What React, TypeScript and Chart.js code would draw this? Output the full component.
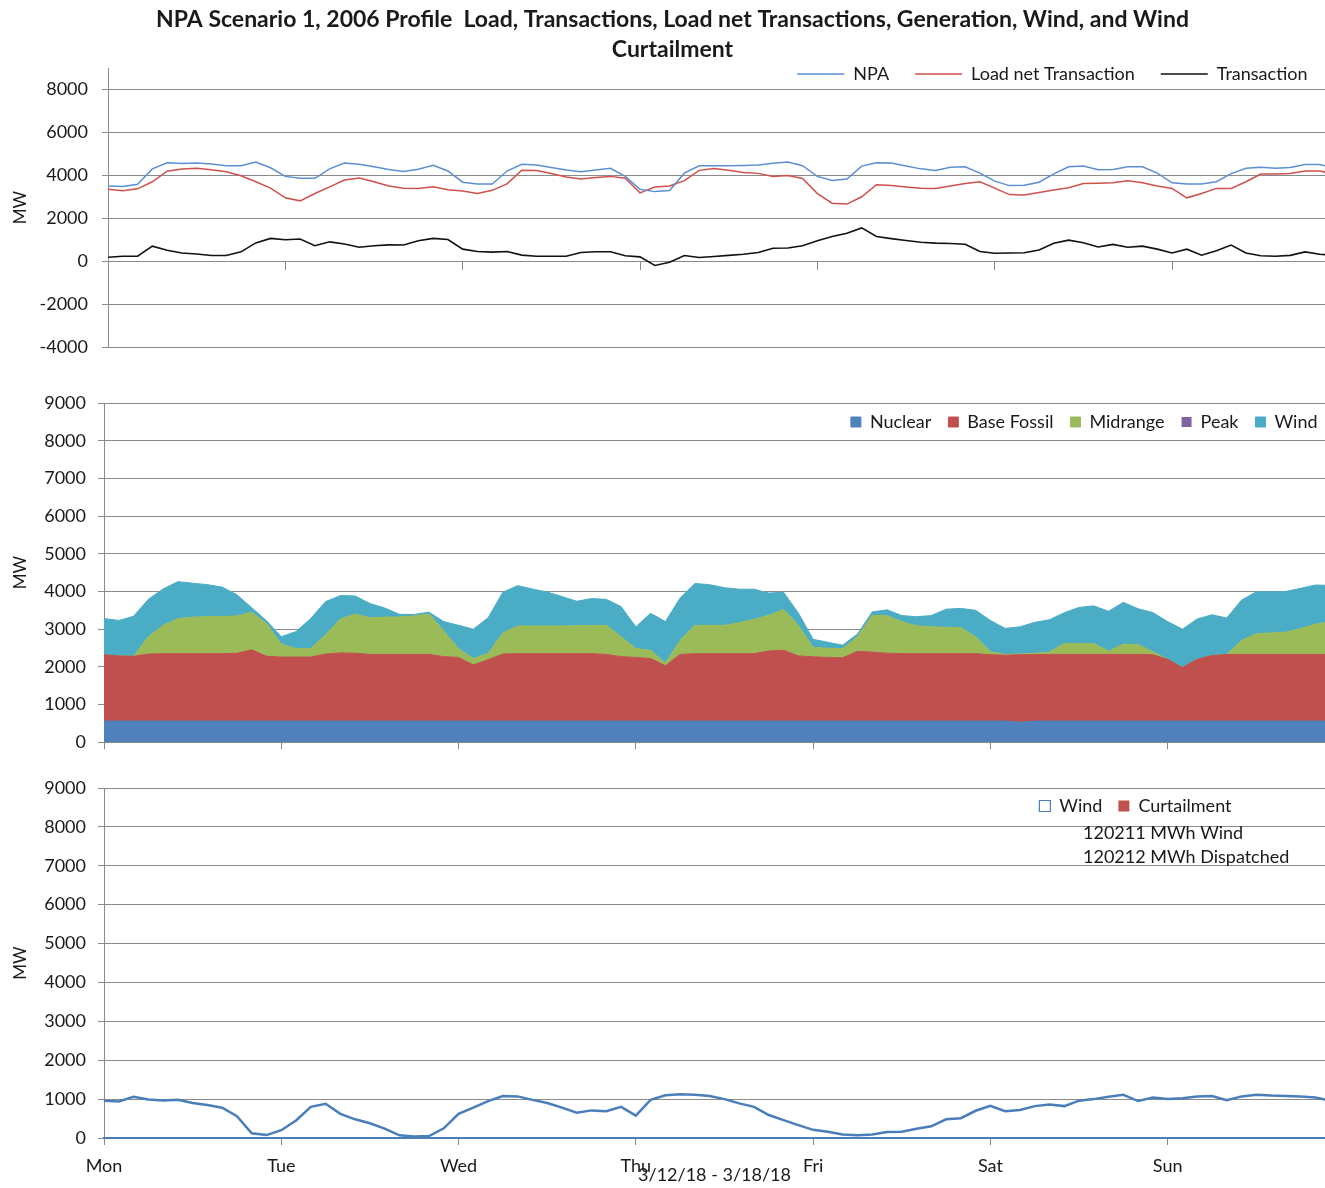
import React, { useEffect, useRef } from 'react';
import { Chart, registerables } from 'chart.js';

Chart.register(...registerables);

// ---------------- data ----------------
const HOURS = [
  0, 2, 4, 6, 8, 10, 12, 14, 16, 18,
  20, 22, 24, 26, 28, 30, 32, 34, 36, 38,
  40, 42, 44, 46, 48, 50, 52, 54, 56, 58,
  60, 62, 64, 66, 68, 70, 72, 74, 76, 78,
  80, 82, 84, 86, 88, 90, 92, 94, 96, 98,
  100, 102, 104, 106, 108, 110, 112, 114, 116, 118,
  120, 122, 124, 126, 128, 130, 132, 134, 136, 138,
  140, 142, 144, 146, 148, 150, 152, 154, 156, 158,
  160, 162, 164, 166,
];
const DAY_TICKS = [0, 24, 48, 72, 96, 120, 144];
const DAY_NAMES = ['Mon', 'Tue', 'Wed', 'Thu', 'Fri', 'Sat', 'Sun'];
const Y1_TICKS = [-4000, -2000, 0, 2000, 4000, 6000, 8000];
const Y2_TICKS = [0, 1000, 2000, 3000, 4000, 5000, 6000, 7000, 8000, 9000];

const TITLE_LINES = [
  'NPA Scenario 1, 2006 Profile  Load, Transactions, Load net Transactions, Generation, Wind, and Wind',
  'Curtailment',
];
const DATE_RANGE = '3/12/18 - 3/18/18';
const NOTE_LINES = ['120211 MWh Wind', '120212 MWh Dispatched'];

const NPA = [
  3500, 3480, 3580, 4300, 4580, 4550, 4570, 4530, 4450, 4450,
  4620, 4350, 3950, 3860, 3860, 4300, 4570, 4520, 4400, 4270,
  4180, 4280, 4470, 4200, 3680, 3595, 3595, 4200, 4510, 4480,
  4360, 4250, 4170, 4250, 4330, 3950, 3350, 3240, 3290, 4100,
  4440, 4450, 4450, 4460, 4480, 4560, 4620, 4450, 3950, 3760,
  3830, 4430, 4590, 4570, 4430, 4300, 4220, 4380, 4400, 4100,
  3730, 3520, 3540, 3680, 4070, 4400, 4430, 4260, 4270, 4400,
  4400, 4100, 3650, 3595, 3595, 3700, 4080, 4330, 4370, 4330,
  4360, 4500, 4500, 4350,
];
const LOAD_NET = [
  3350, 3280, 3370, 3700, 4190, 4290, 4330, 4260, 4170, 3980,
  3700, 3400, 2950, 2810, 3150, 3460, 3780, 3870, 3700, 3500,
  3400, 3380, 3470, 3330, 3270, 3150, 3300, 3600, 4240, 4220,
  4080, 3920, 3830, 3900, 3950, 3860, 3180, 3450, 3500, 3750,
  4230, 4320, 4240, 4130, 4090, 3950, 3990, 3850, 3150, 2700,
  2660, 3000, 3560, 3520, 3460, 3400, 3390, 3500, 3620, 3700,
  3400, 3100, 3080, 3200, 3320, 3420, 3620, 3630, 3650, 3750,
  3650, 3500, 3390, 2950, 3150, 3390, 3390, 3700, 4060, 4060,
  4080, 4200, 4200, 4050,
];
const TRANSACTION = [
  180, 230, 230, 700, 510, 380, 330, 260, 260, 435,
  850, 1060, 1000, 1030, 720, 900, 800, 650, 720, 760,
  750, 950, 1060, 1010, 560, 450, 420, 450, 280, 230,
  230, 230, 400, 435, 435, 250, 200, -200, -50, 260,
  170, 220, 270, 320, 400, 600, 610, 720, 950, 1150,
  1300, 1550, 1150, 1050, 960, 880, 840, 820, 790, 450,
  370, 380, 390, 520, 830, 980, 860, 660, 780, 650,
  700, 560, 380, 560, 280, 480, 750, 380, 250, 230,
  270, 430, 320, 280,
];

const NUCLEAR = [
  560, 560, 560, 560, 560, 560, 560, 560, 560, 560,
  560, 560, 560, 560, 560, 560, 560, 560, 560, 560,
  560, 560, 560, 560, 560, 560, 560, 560, 560, 560,
  560, 560, 560, 560, 560, 560, 560, 560, 560, 560,
  560, 560, 560, 560, 560, 560, 560, 560, 560, 560,
  560, 560, 560, 560, 560, 560, 560, 560, 560, 560,
  560, 560, 530, 560, 560, 560, 560, 560, 560, 560,
  560, 560, 560, 560, 560, 560, 560, 560, 560, 560,
  560, 560, 560, 560,
];
const BASE_FOSSIL = [
  1760, 1730, 1720, 1780, 1790, 1790, 1790, 1790, 1790, 1800,
  1890, 1720, 1700, 1700, 1700, 1780, 1810, 1800, 1770, 1770,
  1770, 1770, 1770, 1710, 1690, 1490, 1630, 1780, 1790, 1790,
  1790, 1790, 1790, 1790, 1770, 1710, 1690, 1660, 1470, 1770,
  1790, 1790, 1790, 1790, 1790, 1860, 1880, 1730, 1705, 1690,
  1680, 1850, 1830, 1800, 1790, 1790, 1790, 1790, 1790, 1790,
  1760, 1750, 1790, 1766, 1770, 1770, 1770, 1770, 1770, 1770,
  1770, 1760, 1640, 1420, 1640, 1740, 1766, 1770, 1770, 1770,
  1770, 1770, 1770, 1770,
];
const MIDRANGE = [
  0, 0, 0, 460, 750, 927, 970, 980, 985, 990,
  1000, 870, 340, 225, 225, 510, 900, 1040, 970, 990,
  992, 1020, 1070, 680, 230, 170, 162, 560, 734, 734,
  734, 734, 740, 750, 770, 530, 235, 220, 70, 370,
  750, 750, 750, 820, 910, 946, 1080, 810, 255, 240,
  245, 390, 976, 1000, 850, 740, 710, 700, 690, 450,
  80, 20, 20, 34, 60, 287, 287, 287, 84, 270,
  260, 80, 0, 0, 0, 0, 0, 370, 550, 570,
  590, 683, 800, 870,
];
const PEAK = [
  0, 0, 0, 0, 0, 0, 0, 0, 0, 0,
  0, 0, 0, 0, 0, 0, 0, 0, 0, 0,
  0, 0, 0, 0, 0, 0, 0, 0, 0, 0,
  0, 0, 0, 0, 0, 0, 0, 0, 0, 0,
  0, 0, 0, 0, 0, 0, 0, 0, 0, 0,
  0, 0, 0, 0, 0, 0, 0, 0, 0, 0,
  0, 0, 0, 0, 0, 0, 0, 0, 0, 0,
  0, 0, 0, 0, 0, 0, 0, 0, 0, 0,
  0, 0, 0, 0,
];
const WIND = [
  960, 940, 1060, 990, 966, 983, 900, 850, 780, 560,
  120, 75, 200, 450, 800, 880, 620, 480, 380, 240,
  70, 40, 50, 250, 620, 780, 950, 1080, 1070, 980,
  900, 780, 650, 710, 690, 800, 576, 980, 1100, 1125,
  1110, 1080, 1000, 890, 800, 590, 458, 330, 210, 160,
  90, 68, 90, 153, 160, 240, 300, 480, 510, 700,
  830, 690, 720, 820, 860, 820, 960, 1000, 1060, 1110,
  950, 1040, 1000, 1020, 1070, 1080, 970, 1070, 1110, 1090,
  1080, 1070, 1040, 960,
];
const CURTAILMENT = PEAK;

// ---------------- style ----------------
const FONT = 'Lato, "Liberation Sans", sans-serif';
const TEXT = '#1a1a1a';
const GRID = '#8a8a8a';
const C_NPA = '#5b8fd2';
const C_LOADNET = '#cf504c';
const C_TRANS = '#111111';
const C_NUC = '#4f81bd';
const C_BASE = '#c0504d';
const C_MID = '#9bbb59';
const C_PEAK = '#8064a2';
const C_WIND = '#4bacc6';
const C_WIND_LINE = '#4a7ebb';

Chart.defaults.font.family = FONT;
Chart.defaults.color = TEXT;

const legendShift = {
  id: 'legendShift',
  afterLayout(chart: any, _a: any, opts: any) {
    const lg = chart.legend;
    if (!lg) return;
    const dx = opts.dx || 0;
    lg.left += dx;
    lg.right += dx;
    lg.top = chart.chartArea.top + (opts.dy || 0);
    lg.bottom = lg.top + 60;
    if (lg.lineWidths) lg.lineWidths = lg.lineWidths.map((w: number) => w + 0.5);
  },
};

const noteText = {
  id: 'noteText',
  afterDraw(chart: any, _a: any, opts: any) {
    if (!opts || !opts.lines) return;
    const { ctx, chartArea } = chart;
    ctx.save();
    ctx.font = `18px ${FONT}`;
    ctx.fillStyle = TEXT;
    ctx.textBaseline = 'middle';
    ctx.textAlign = 'left';
    opts.lines.forEach((t: string, i: number) => {
      ctx.fillText(t, chartArea.right + opts.dx, chartArea.top + opts.dy + i * opts.gap);
    });
    ctx.restore();
  },
};

const dayTicks = (s: any) => {
  s.ticks = DAY_TICKS.map((v) => ({ value: v }));
};

function yAxis(ticks: number[], min: number, max: number, width: number, padLabel: number, titlePad: number) {
  return {
    min,
    max,
    afterBuildTicks: (s: any) => {
      s.ticks = ticks.map((v) => ({ value: v }));
    },
    afterFit: (s: any) => {
      s.width = width;
    },
    ticks: {
      padding: padLabel,
      color: TEXT,
      font: { size: 18 },
      callback: (v: any) => String(v),
    },
    grid: { color: GRID, lineWidth: 1, tickLength: 6, drawTicks: true },
    border: { display: true, color: GRID, width: 1 },
    title: {
      display: true,
      text: 'MW',
      color: TEXT,
      font: { size: 17 },
      padding: { top: titlePad, bottom: 0 },
    },
  };
}

function lineDs(label: string, data: number[], color: string, width: number) {
  return {
    label,
    data,
    borderColor: color,
    backgroundColor: color,
    borderWidth: width,
    pointRadius: 0,
    fill: false,
    tension: 0,
  };
}

function areaDs(label: string, data: number[], color: string, fill: any, bw: number) {
  return {
    label,
    data,
    borderColor: color,
    backgroundColor: color,
    borderWidth: bw,
    pointRadius: 0,
    fill,
    tension: 0,
  };
}

function config1(): any {
  return {
    type: 'line',
    data: {
      labels: HOURS,
      datasets: [
        lineDs('NPA', NPA, C_NPA, 1.5),
        lineDs('Load net Transaction', LOAD_NET, C_LOADNET, 1.5),
        lineDs('Transaction', TRANSACTION, C_TRANS, 1.6),
      ],
    },
    options: {
      responsive: false,
      animation: false,
      devicePixelRatio: 1,
      events: [],
      layout: { padding: { left: 20, right: 0, top: 0, bottom: 33 } },
      plugins: {
        title: {
          display: true,
          text: TITLE_LINES,
          color: TEXT,
          font: { size: 23, weight: 'bold', lineHeight: '30px' },
          padding: { top: 5, bottom: 2 },
        },
        legend: {
          position: 'top',
          align: 'end',
          maxHeight: 1,
          labels: { boxWidth: 47, boxHeight: 0, padding: 26, color: TEXT, font: { size: 18 } },
        },
        legendShift: { dx: 9, dy: -29 },
        tooltip: { enabled: false },
      },
      scales: {
        x: {
          type: 'linear',
          min: 0,
          max: 164.7,
          position: { y: 0 },
          afterBuildTicks: dayTicks,
          ticks: { display: false },
          grid: { drawOnChartArea: false, drawTicks: true, tickLength: 8, color: GRID },
          border: { display: true, color: GRID, width: 1 },
        },
        y: yAxis(Y1_TICKS, -4000, 9000, 88, 14, -10),
      },
    },
    plugins: [legendShift],
  };
}

function config2(): any {
  return {
    type: 'line',
    data: {
      labels: HOURS,
      datasets: [
        areaDs('Nuclear', NUCLEAR, C_NUC, 'origin', 1),
        areaDs('Base Fossil', BASE_FOSSIL, C_BASE, '-1', 1),
        areaDs('Midrange', MIDRANGE, C_MID, '-1', 1),
        areaDs('Peak', PEAK, C_PEAK, '-1', 0),
        areaDs('Wind', WIND, C_WIND, '-1', 1),
      ],
    },
    options: {
      responsive: false,
      animation: false,
      devicePixelRatio: 1,
      events: [],
      layout: { padding: { left: 0, right: 0, top: 22, bottom: 0 } },
      plugins: {
        title: { display: false },
        legend: {
          position: 'top',
          align: 'end',
          maxHeight: 1,
          labels: { boxWidth: 10, boxHeight: 10, padding: 17, color: TEXT, font: { size: 18 } },
        },
        legendShift: { dx: 10, dy: -7 },
        tooltip: { enabled: false },
      },
      scales: {
        x: {
          type: 'linear',
          min: 0,
          max: 165.3,
          afterBuildTicks: dayTicks,
          afterFit: (s: any) => {
            s.height = 21;
          },
          ticks: { display: false },
          grid: { drawOnChartArea: false, drawTicks: true, tickLength: 7, color: GRID },
          border: { display: true, color: GRID, width: 1 },
        },
        y: { ...yAxis(Y2_TICKS, 0, 9000, 104, 12, 10), stacked: true },
      },
    },
    plugins: [legendShift],
  };
}

function config3(): any {
  return {
    type: 'line',
    data: {
      labels: HOURS,
      datasets: [
        {
          label: 'Wind',
          data: WIND,
          borderColor: C_WIND_LINE,
          backgroundColor: '#ffffff',
          borderWidth: 2.5,
          pointRadius: 0,
          fill: false,
          tension: 0,
        },
        areaDs('Curtailment', CURTAILMENT, C_BASE, 'origin', 0),
      ],
    },
    options: {
      responsive: false,
      animation: false,
      devicePixelRatio: 1,
      events: [],
      layout: { padding: { left: 0, right: 0, top: 22, bottom: 0 } },
      plugins: {
        title: { display: false },
        legend: {
          position: 'top',
          align: 'end',
          maxHeight: 1,
          labels: {
            boxWidth: 11,
            boxHeight: 11,
            padding: 16,
            color: TEXT,
            font: { size: 18 },
            generateLabels: (chart: any) =>
              Chart.defaults.plugins.legend.labels
                .generateLabels(chart)
                .map((l: any) => ({ ...l, lineWidth: l.text === 'Wind' ? 1.2 : 0 })),
          },
        },
        legendShift: { dx: -77, dy: -7 },
        noteText: { lines: NOTE_LINES, dx: -242, dy: 45, gap: 24 },
        tooltip: { enabled: false },
      },
      scales: {
        x: {
          type: 'linear',
          min: 0,
          max: 165.3,
          afterBuildTicks: dayTicks,
          afterFit: (s: any) => {
            s.height = 50;
          },
          ticks: {
            display: true,
            padding: 10,
            maxRotation: 0,
            autoSkip: false,
            color: TEXT,
            font: { size: 18 },
            callback: (v: any) => DAY_NAMES[Math.round(Number(v) / 24)] ?? '',
          },
          grid: { drawOnChartArea: false, drawTicks: true, tickLength: 7, color: GRID },
          border: { display: true, color: C_WIND_LINE, width: 2, z: 1 },
          title: {
            display: true,
            text: DATE_RANGE,
            color: TEXT,
            font: { size: 18 },
            padding: { top: 0, bottom: 2 },
          },
        },
        y: yAxis(Y2_TICKS, 0, 9000, 104, 12, 10),
      },
    },
    plugins: [legendShift, noteText],
  };
}

export default function App() {
  const r1 = useRef<HTMLCanvasElement>(null);
  const r2 = useRef<HTMLCanvasElement>(null);
  const r3 = useRef<HTMLCanvasElement>(null);

  useEffect(() => {
    const charts = [
      new Chart(r1.current as HTMLCanvasElement, config1()),
      new Chart(r2.current as HTMLCanvasElement, config2()),
      new Chart(r3.current as HTMLCanvasElement, config3()),
    ];
    return () => charts.forEach((c) => c.destroy());
  }, []);

  const cv = (top: number, h: number): React.CSSProperties => ({
    position: 'absolute',
    left: 0,
    top,
    width: 1325,
    height: h,
    display: 'block',
  });

  return (
    <div
      style={{
        position: 'absolute',
        left: 0,
        top: 0,
        width: 1325,
        height: 1188,
        overflow: 'hidden',
        background: '#ffffff',
      }}
    >
      <canvas ref={r1} width={1325} height={380} style={cv(0, 380)} />
      <canvas ref={r2} width={1325} height={385} style={cv(380, 385)} />
      <canvas ref={r3} width={1325} height={423} style={cv(765, 423)} />
    </div>
  );
}
